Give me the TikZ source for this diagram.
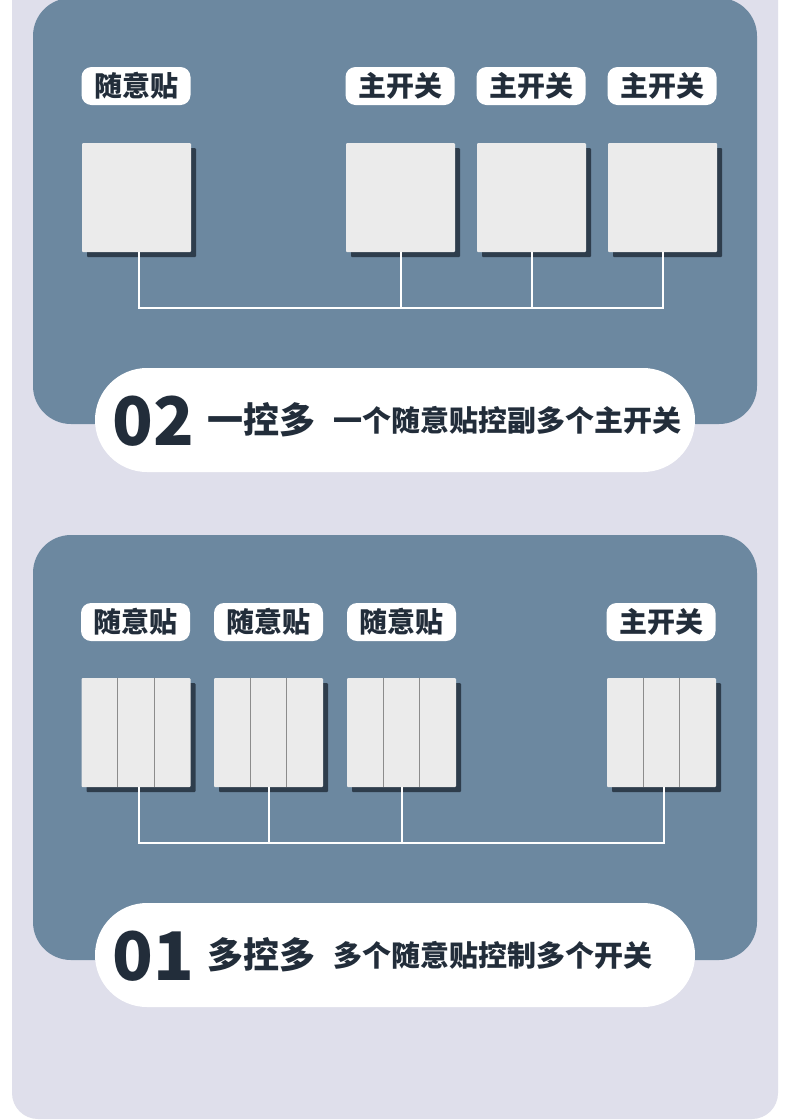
\documentclass[tikz,border=0pt]{standalone}
\usepackage{fontspec}
\newfontfamily\cjk{Noto Sans CJK SC}
\usetikzlibrary{shadows,calc}
\definecolor{lav}{HTML}{DFDFEB}
\definecolor{panelc}{HTML}{6C88A0}
\definecolor{ink}{HTML}{222D3A}
\definecolor{swc}{HTML}{EBEBEB}
\definecolor{shadc}{HTML}{2E3D4C}
\definecolor{gangc}{HTML}{8C8C8C}
\tikzset{
  panel/.style={fill=panelc, draw=none, rounded corners=38pt},
  pill/.style={fill=white, draw=none, rounded corners=52pt},
  tag/.style={fill=white, rounded corners=10pt, minimum width=109pt, minimum height=38pt, inner sep=0pt,
    font=\cjk\bfseries\fontsize{28}{28}\selectfont, text=ink},
  switchbox/.style={fill=swc, rounded corners=1pt, minimum width=109pt, minimum height=109pt, inner sep=0pt,
    general shadow={fill=shadc, shadow xshift=5pt, shadow yshift=-5pt}},
  wire/.style={draw=white, line width=2pt},
  gang/.style={draw=gangc, line width=1pt},
  bignum/.style={font=\cjk\bfseries\fontsize{67}{67}\selectfont, text=ink, inner sep=0pt},
  title/.style={font=\cjk\bfseries\fontsize{36}{36}\selectfont, text=ink, inner sep=0pt},
  subtitle/.style={font=\cjk\bfseries\fontsize{29}{29}\selectfont, text=ink, inner sep=0pt}
}
\begin{document}
\begin{tikzpicture}[x=1pt, y=-1pt]
\useasboundingbox (0,0) rectangle (790,1120);
\fill[white] (0,0) rectangle (790,1120);
\fill[lav, rounded corners=26pt] (12,-40) rectangle (778,1119);

% ---------- panel 02 ----------
\fill[panel] (33,-2) rectangle (757,424);
\fill[pill] (95,368) rectangle (695,472);

\node[tag] (t1) at (136,86) {随意贴};
\node[tag] (t2) at (400,86) {主开关};
\node[tag] (t3) at (531,86) {主开关};
\node[tag] (t4) at (662,86) {主开关};

\node[switchbox] (s1) at (136.5,197.5) {};
\node[switchbox] (s2) at (400.5,197.5) {};
\node[switchbox] (s3) at (531.5,197.5) {};
\node[switchbox] (s4) at (662.5,197.5) {};

\coordinate (busA) at (0,308);
\draw[wire] (s1.south -| 139,0) |- (busA -| s4.south) -- (s4.south);
\draw[wire] (s2.south) -- (busA -| s2.south);
\draw[wire] (s3.south) -- (busA -| s3.south);

\node[bignum, anchor=base west] (n2) at (112,445) {02};
\node[title, anchor=west] (h2) at (207,420) {一控多};
\node[subtitle, anchor=west] (d2) at (333,420) {一个随意贴控副多个主开关};

% ---------- panel 01 ----------
\fill[panel] (33,535) rectangle (757,960);
\fill[pill] (95,903) rectangle (695,1007);

\node[tag] (u1) at (135.5,622) {随意贴};
\node[tag] (u2) at (268.5,622) {随意贴};
\node[tag] (u3) at (401.5,622) {随意贴};
\node[tag] (u4) at (661,622) {主开关};

\node[switchbox] (b1) at (136,732.5) {};
\node[switchbox] (b2) at (268.5,732.5) {};
\node[switchbox] (b3) at (401.5,732.5) {};
\node[switchbox] (b4) at (661.5,732.5) {};

\foreach \b in {b1,b2,b3,b4}{
  \draw[gang] ($(\b.north west)!1/3!(\b.north east)$) -- ($(\b.south west)!1/3!(\b.south east)$);
  \draw[gang] ($(\b.north west)!2/3!(\b.north east)$) -- ($(\b.south west)!2/3!(\b.south east)$);
}

\coordinate (busB) at (0,843);
\draw[wire] (b1.south -| 139,0) |- (busB -| 664,0) -- (b4.south -| 664,0);
\draw[wire] (b2.south) -- (busB -| b2.south);
\draw[wire] (b3.south) -- (busB -| b3.south);

\node[bignum, anchor=base west] (n1) at (112,980) {01};
\node[title, anchor=west] (h1) at (207,955) {多控多};
\node[subtitle, anchor=west] (d1) at (333,955) {多个随意贴控制多个开关};
\end{tikzpicture}
\end{document}
